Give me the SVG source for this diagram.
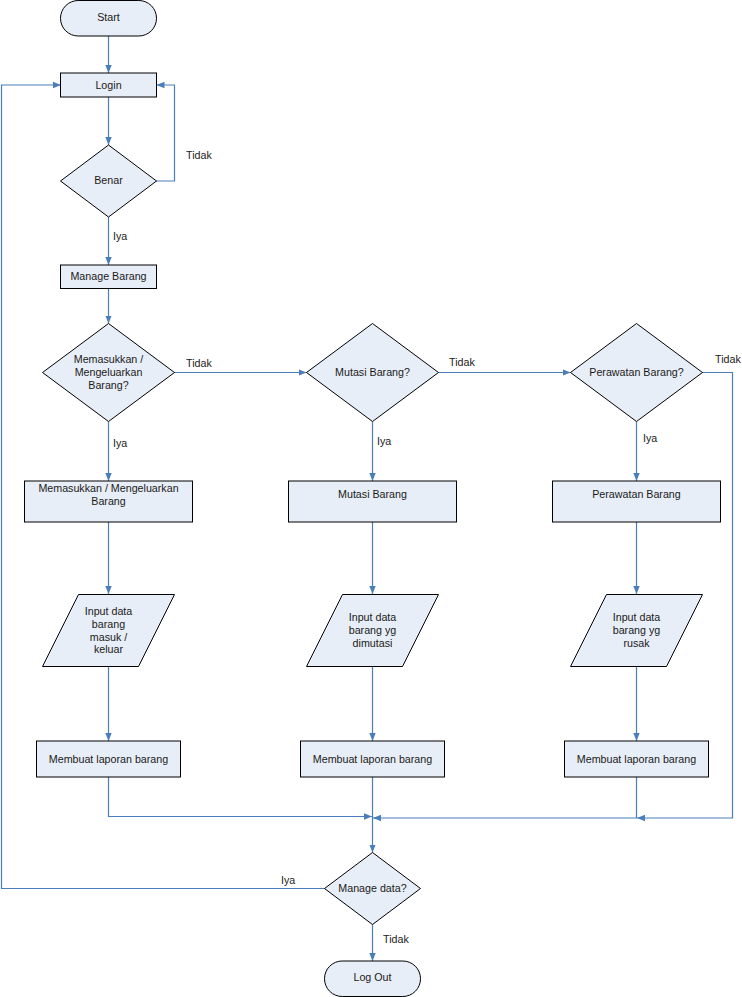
<svg xmlns="http://www.w3.org/2000/svg" width="742" height="997" viewBox="0 0 742 997">
<style>
.s{fill:#e8eef7;stroke:#000;stroke-width:1}
.t{font-family:"Liberation Sans",Arial,sans-serif;font-size:10.7px;fill:#1a1a1a;text-anchor:middle}
.l{font-family:"Liberation Sans",Arial,sans-serif;font-size:10.7px;fill:#1a1a1a}
.c{fill:none;stroke:#4a7ebb;stroke-width:1.2;marker-end:url(#a)}
.n{fill:none;stroke:#4a7ebb;stroke-width:1.2}
</style>
<defs>
<marker id="a" markerUnits="userSpaceOnUse" markerWidth="8" markerHeight="8" viewBox="0 0 8 8" refX="8" refY="4" orient="auto">
<path d="M0,0.8 L8,4 L0,7.2 Z" fill="#4a7ebb"/>
</marker>
</defs>
<rect width="742" height="997" fill="#fff"/>
<g id="connectors">
<path class="c" d="M108.5,36 V73"/>
<path class="c" d="M108.5,97 V145"/>
<path class="c" d="M156,181 H174.5 V85 H156.5"/>
<path class="c" d="M108.5,217 V265"/>
<path class="c" d="M108.5,288.5 V323.5"/>
<path class="c" d="M174,372.5 H306.5"/>
<path class="c" d="M438.5,372.5 H570.5"/>
<path class="c" d="M108.5,421.5 V481"/>
<path class="c" d="M372.5,421.5 V481"/>
<path class="c" d="M636.5,421.5 V481"/>
<path class="c" d="M108.5,522 V594"/>
<path class="c" d="M372.5,522 V594"/>
<path class="c" d="M636.5,522 V594"/>
<path class="c" d="M108.5,666 V741"/>
<path class="c" d="M372.5,666 V741"/>
<path class="c" d="M636.5,666 V741"/>
<path class="c" d="M108.5,777 V816.5 H372"/>
<path class="c" d="M372.5,777 V852.5"/>
<path class="c" d="M636.5,777 V818 H373"/>
<path class="c" d="M702,372.5 H732.5 V818 H637"/>
<path class="c" d="M325,888.5 H1.5 V85 H61"/>
<path class="c" d="M372.5,924.5 V961"/>
</g>
<g id="start"><rect class="s" x="60.5" y="0.5" width="96" height="35.5" rx="17.7"/><text class="t" x="108.5" y="21">Start</text></g>
<g id="login"><rect class="s" x="60.5" y="73" width="96" height="24"/><text class="t" x="108.5" y="89">Login</text></g>
<g id="benar"><path class="s" d="M108.5,145 L156.5,181 L108.5,217 L60.5,181 Z"/><text class="t" x="108.5" y="184">Benar</text></g>
<g id="manage-barang"><rect class="s" x="60.5" y="265" width="96" height="23.5"/><text class="t" x="108.5" y="280">Manage Barang</text></g>
<g id="d-masuk"><path class="s" d="M108.5,323.5 L174.5,372.5 L108.5,421.5 L42.5,372.5 Z"/><text class="t" x="108.5" y="363">Memasukkan /</text><text class="t" x="108.5" y="376">Mengeluarkan</text><text class="t" x="108.5" y="388.5">Barang?</text></g>
<g id="d-mutasi"><path class="s" d="M372.5,323.5 L438.5,372.5 L372.5,421.5 L306.5,372.5 Z"/><text class="t" x="372.5" y="376">Mutasi Barang?</text></g>
<g id="d-perawatan"><path class="s" d="M636.5,323.5 L702.5,372.5 L636.5,421.5 L570.5,372.5 Z"/><text class="t" x="636.5" y="376">Perawatan Barang?</text></g>
<g id="p-masuk"><rect class="s" x="24.5" y="481" width="168" height="41"/><text class="t" x="108.5" y="492">Memasukkan / Mengeluarkan</text><text class="t" x="108.5" y="505">Barang</text></g>
<g id="p-mutasi"><rect class="s" x="288.5" y="481" width="168" height="41"/><text class="t" x="372.5" y="498">Mutasi Barang</text></g>
<g id="p-perawatan"><rect class="s" x="552.5" y="481" width="168" height="41"/><text class="t" x="636.5" y="498">Perawatan Barang</text></g>
<g id="in-masuk"><path class="s" d="M78.5,594.5 L174.5,594.5 L138.5,666.5 L42.5,666.5 Z"/><text class="t" x="108.5" y="615">Input data</text><text class="t" x="108.5" y="627.7">barang</text><text class="t" x="108.5" y="640.5">masuk /</text><text class="t" x="108.5" y="653">keluar</text></g>
<g id="in-mutasi"><path class="s" d="M342.5,594.5 L438.5,594.5 L402.5,666.5 L306.5,666.5 Z"/><text class="t" x="372.5" y="620.5">Input data</text><text class="t" x="372.5" y="634">barang yg</text><text class="t" x="372.5" y="647">dimutasi</text></g>
<g id="in-rusak"><path class="s" d="M606.5,594.5 L702.5,594.5 L666.5,666.5 L570.5,666.5 Z"/><text class="t" x="636.5" y="620.5">Input data</text><text class="t" x="636.5" y="634">barang yg</text><text class="t" x="636.5" y="647">rusak</text></g>
<g id="lap-1"><rect class="s" x="36.5" y="741" width="144" height="36"/><text class="t" x="108.5" y="763">Membuat laporan barang</text></g>
<g id="lap-2"><rect class="s" x="300.5" y="741" width="144" height="36"/><text class="t" x="372.5" y="763">Membuat laporan barang</text></g>
<g id="lap-3"><rect class="s" x="564.5" y="741" width="144" height="36"/><text class="t" x="636.5" y="763">Membuat laporan barang</text></g>
<g id="manage-data"><path class="s" d="M372.5,852.5 L420.5,888.5 L372.5,924.5 L324.5,888.5 Z"/><text class="t" x="372.5" y="892">Manage data?</text></g>
<g id="logout"><rect class="s" x="324.5" y="961" width="96" height="35.5" rx="17.7"/><text class="t" x="372.5" y="981">Log Out</text></g>
<g id="labels">
<text class="l" x="186" y="159">Tidak</text>
<text class="l" x="113" y="240">Iya</text>
<text class="l" x="186" y="367">Tidak</text>
<text class="l" x="113" y="447">Iya</text>
<text class="l" x="449" y="366">Tidak</text>
<text class="l" x="377" y="445">Iya</text>
<text class="l" x="715" y="363">Tidak</text>
<text class="l" x="643" y="442">Iya</text>
<text class="l" x="281" y="884">Iya</text>
<text class="l" x="383" y="943">Tidak</text>
</g>
</svg>
